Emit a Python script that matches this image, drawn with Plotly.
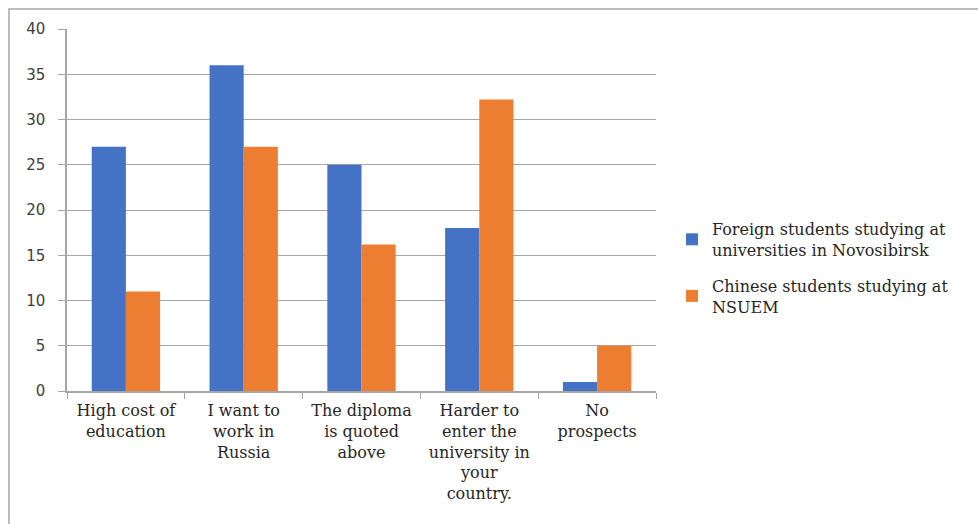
import plotly.graph_objects as go

categories = ["High cost of<br>education", "I want to<br>work in<br>Russia",
              "The diploma<br>is quoted<br>above",
              "Harder to<br>enter the<br>university in<br>your<br>country.",
              "No<br>prospects"]
series_names = ["Foreign students studying at<br>universities in Novosibirsk",
                "Chinese students studying at<br>NSUEM"]
foreign = [27, 36, 25, 18, 1]
chinese = [11, 27, 16.2, 32.2, 5]
colors = ["#4472C4", "#ED7D31"]

W, H = 978, 524
L, R, T, B = 67, 656, 29, 391
pw, ph = R - L, B - T
serif = "DejaVu Serif"

fig = go.Figure()
for i, (name, vals, c) in enumerate(zip(series_names, [foreign, chinese], colors)):
    fig.add_trace(go.Bar(x=categories, y=vals, name=name, legendgroup=f"g{i}",
                         marker=dict(color=c, line=dict(width=0))))

fig.update_layout(
    width=W, height=H,
    margin=dict(l=L, r=W - R, t=T, b=H - B, autoexpand=False),
    paper_bgcolor="white", plot_bgcolor="white",
    barmode="group", bargap=0.42, bargroupgap=0,
    showlegend=True,
    legend=dict(x=(672 - L) / pw, y=(391 - 268) / ph, xanchor="left", yanchor="middle",
                font=dict(family=serif, size=16, color="#262626"),
                tracegroupgap=12, itemwidth=30),
    shapes=[dict(type="rect", xref="paper", yref="paper",
                 x0=(9 - L) / pw, x1=(990 - L) / pw,
                 y0=(B - 540) / ph, y1=(B - 9) / ph,
                 line=dict(color="#A6A6A6", width=1.5), fillcolor="rgba(0,0,0,0)", layer="below")],
)
fig.update_xaxes(showline=True, linecolor="#A6A6A6", linewidth=1.5,
                 ticks="outside", tickson="boundaries", ticklen=6, tickcolor="#A6A6A6",
                 tickfont=dict(family=serif, size=16, color="#262626"),
                 ticklabelstandoff=4,
                 showgrid=False, tickangle=0)
fig.update_yaxes(range=[0, 40], dtick=5, showline=True, linecolor="#A6A6A6", linewidth=1.5,
                 ticks="outside", ticklen=7, tickcolor="#A6A6A6",
                 gridcolor="#A6A6A6", gridwidth=1.3, zeroline=False,
                 ticklabelstandoff=10,
                 tickfont=dict(family="DejaVu Sans", size=15, color="#404040"))

fig.write_html("out.html")
